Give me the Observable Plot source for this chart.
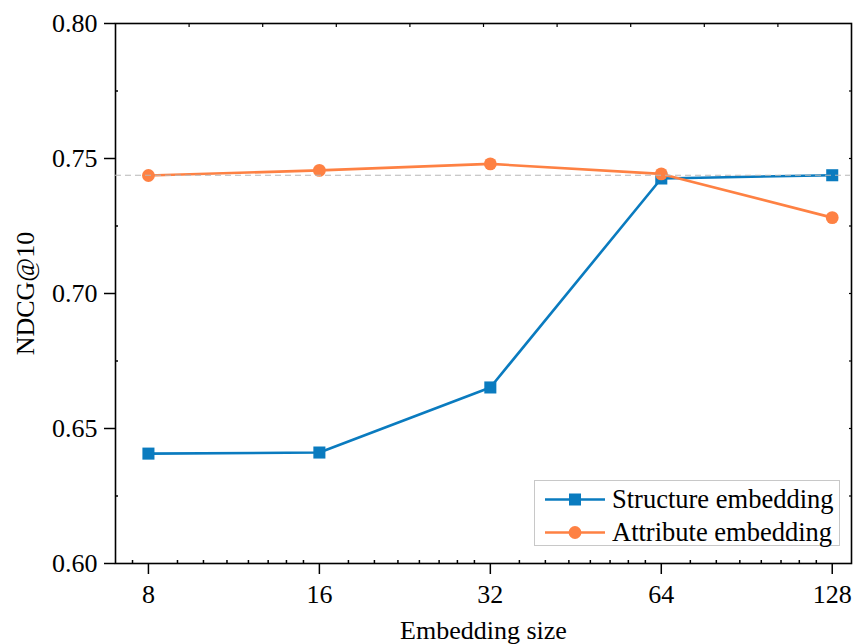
<!DOCTYPE html>
<html>
<head>
<meta charset="utf-8">
<script src="https://cdn.jsdelivr.net/npm/d3@7"></script>
<script src="https://cdn.jsdelivr.net/npm/@observablehq/plot@0.6"></script>
<style>
  html, body { margin: 0; padding: 0; background: #fff; }
  #wrap { position: relative; width: 854px; height: 644px; }
  #legend {
    position: absolute; left: 534px; top: 480px; width: 306px; height: 66px;
    border: 1px solid #c8c8c8; background: #fff; box-sizing: border-box;
    font-family: 'Liberation Serif', 'Times New Roman', serif; font-size: 26.5px; color: #000;
  }
  .row { position: absolute; left: 0; height: 33px; display: flex; align-items: center; white-space: nowrap; }
  .row svg { margin-left: 10px; margin-right: 7px; }
</style>
</head>
<body>
<div id="wrap"></div>
<script>
// ---- data ----
const sizes = [8, 16, 32, 64, 128];
const structureValues = [0.6407, 0.6411, 0.6652, 0.7426, 0.7438];
const attributeValues = [0.7437, 0.7456, 0.7480, 0.7443, 0.7281];
const referenceValue = [0.7438];
const seriesNames = ["Structure embedding", "Attribute embedding"];
const seriesColors = ["#0a7bbf", "#fe8143"];
const seriesSymbols = ["square", "circle"];
const yTicks = [0.60, 0.65, 0.70, 0.75, 0.80];
const yMinorTicks = [0.625, 0.675, 0.725, 0.775];
const yRightTicks = [0.625, 0.65, 0.675, 0.70, 0.725, 0.75, 0.775];
const xMinorTicks = [7.5, 9, 10, 11, 12, 13, 14, 15, 18, 20, 22, 24, 26, 28, 30, 36, 40, 44, 48, 52, 56, 60, 72, 80, 88, 96, 104, 112, 120];
const xDomain = [7, 138.4];

const structure = sizes.map((s, i) => ({size: s, value: structureValues[i]}));
const attribute = sizes.map((s, i) => ({size: s, value: attributeValues[i]}));

// top axis: evenly spaced ticks across the frame (log space)
const lo = Math.log2(xDomain[0]), hi = Math.log2(xDomain[1]);
const xTopTicks = d3.range(1, 10).map(k => Math.pow(2, lo + (hi - lo) * k / 10));

const font = "'Liberation Serif', 'Times New Roman', serif";
const blank = () => "";

const chart = Plot.plot({
  width: 854,
  height: 644,
  marginLeft: 115,
  marginRight: 3,
  marginTop: 23,
  marginBottom: 81,
  style: {fontFamily: font, fontSize: "25.5px", color: "#000", background: "#fff", overflow: "visible"},
  x: {type: "log", base: 2, domain: xDomain},
  y: {domain: [0.6, 0.8]},
  marks: [
    Plot.axisY(yTicks, {tickSize: 11, tickPadding: 7, strokeWidth: 1.5, tickFormat: ".2f",
      label: "NDCG@10", labelAnchor: "center", labelOffset: 100, labelArrow: "none", fontSize: 26}),
    Plot.axisY(yMinorTicks, {tickSize: -3, strokeWidth: 1.5, tickFormat: blank, label: null}),
    Plot.axisY(yRightTicks, {anchor: "right", tickSize: -3, strokeWidth: 1.2, tickFormat: blank, label: null}),
    Plot.axisX(sizes, {tickSize: 11, tickPadding: 10, strokeWidth: 1.5, tickFormat: d => String(d),
      label: "Embedding size", labelAnchor: "center", labelOffset: 75, labelArrow: "none", fontSize: 26}),
    Plot.axisX(xMinorTicks, {tickSize: -3, strokeWidth: 1.5, tickFormat: blank, label: null}),
    Plot.axisX(xTopTicks, {anchor: "top", tickSize: -3, strokeWidth: 1.2, tickFormat: blank, label: null}),
    Plot.frame({stroke: "#000", strokeWidth: 1.6}),
    Plot.line(structure, {x: "size", y: "value", stroke: seriesColors[0], strokeWidth: 2.6}),
    Plot.dot(structure, {x: "size", y: "value", symbol: seriesSymbols[0], r: 6.8, fill: seriesColors[0], stroke: "none"}),
    Plot.line(attribute, {x: "size", y: "value", stroke: seriesColors[1], strokeWidth: 2.6}),
    Plot.dot(attribute, {x: "size", y: "value", symbol: seriesSymbols[1], r: 6.4, fill: seriesColors[1], stroke: "none"}),
    Plot.ruleY(referenceValue, {stroke: "#b8b8b8", strokeWidth: 1.2, strokeDasharray: "6,4"})
  ]
});

const wrap = document.getElementById("wrap");
wrap.appendChild(chart);

// legend overlay
const legend = document.createElement("div");
legend.id = "legend";
seriesNames.forEach((name, i) => {
  const row = document.createElement("div");
  row.className = "row";
  row.style.top = (i === 0 ? 2 : 35) + "px";
  const sym = seriesSymbols[i] === "square"
    ? `<rect x="24" y="10.5" width="12" height="12" fill="${seriesColors[i]}"/>`
    : `<circle cx="30" cy="16.5" r="6.4" fill="${seriesColors[i]}"/>`;
  row.innerHTML = `<svg width="60" height="33"><line x1="0" x2="60" y1="16.5" y2="16.5" stroke="${seriesColors[i]}" stroke-width="2.6"/>${sym}</svg><span>${name}</span>`;
  legend.appendChild(row);
});
wrap.appendChild(legend);
</script>
</body>
</html>
